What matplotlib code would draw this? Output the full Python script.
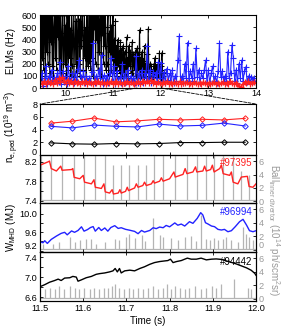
import numpy as np
import matplotlib
matplotlib.use("Agg")
import matplotlib.pyplot as plt
from matplotlib.patches import ConnectionPatch

plt.rcParams['font.family'] = ['Liberation Sans', 'DejaVu Sans']
plt.rcParams['font.size'] = 7
plt.rcParams['mathtext.fontset'] = 'custom'
plt.rcParams['mathtext.rm'] = 'Liberation Sans'
plt.rcParams['mathtext.it'] = 'Liberation Sans:italic'

RED = '#ff2222'
BLUE = '#2222ff'
GRAY = '#b4b4b4'
GRAYTXT = '#9a9a9a'
TS = 6.6

# ---------------- ELM frequency (top panel) ----------------
elm_black = [620, 80, 620, 250, 620, 150, 450, 620, 100, 620, 300, 620, 200, 550, 620, 120,
             620, 380, 620, 180, 620, 90, 500, 620, 250, 620, 150, 620, 420, 620, 200, 620,
             150, 620, 80, 450, 620, 120, 380, 620, 200, 520, 100, 620, 300, 150, 620, 250,
             480, 100, 620, 180, 400, 620, 90, 350, 620, 200, 550,
             120, 450, 620, 200, 550, 100, 620, 350, 480, 620, 150, 400, 620, 250, 500, 100,
             620, 300, 180, 620, 220,
             620, 150, 620, 250, 620, 100, 620, 500, 620, 200, 620, 400, 620, 150, 620, 300,
             550, 620, 100, 620, 450, 620, 200, 620, 350, 620, 150,
             200, 500, 620, 100, 450, 300, 600, 150, 520, 250, 620, 120, 400, 200, 550, 150,
             350, 100, 400, 200, 300, 120, 380, 150, 330, 100, 280, 350, 120, 300, 200, 100,
             420, 150, 250, 80, 350, 180, 300, 120, 260, 380, 100, 280, 200, 150,
             300, 100, 250, 330, 80, 280, 150, 480, 120, 250, 100, 300, 150, 220, 90, 350,
             150, 200, 100, 280, 120, 490, 150,
             100, 200, 80, 180, 120, 150, 60, 200, 80, 250, 120, 170, 90, 140, 200, 100,
             290, 120, 180, 80, 290, 150, 100, 120]
elm_black_t = np.linspace(9.47, 12.06, len(elm_black))

elm_blue = [40, 120, 20, 80, 180, 30, 100, 60, 150, 40, 90, 60,
            120, 50, 216, 30, 140, 50, 100, 30, 180, 70, 60, 120,
            40, 120, 60, 160, 230, 90, 50, 140, 40, 100, 60, 80,
            50, 130, 370, 40, 100, 60, 150, 80, 270, 30, 110, 60,
            100, 40, 120, 250, 60, 180, 30, 140, 60, 90, 40, 200,
            40, 120, 50, 150, 30, 100, 60, 80, 40, 260, 40, 120,
            60, 150, 40, 120, 80, 350, 60, 150, 40, 130, 80, 120,
            60, 217, 80, 205, 60, 130, 40, 160, 70, 120, 50, 150,
            40, 100, 60, 230, 430, 60, 100, 40, 200, 80, 375, 60,
            140, 80, 200, 60, 328, 90, 150, 40, 120, 80, 150, 230,
            50, 150, 40, 120, 180, 60, 100, 40, 140, 370, 90, 140,
            60, 100, 50, 300, 80, 120, 355, 250, 60, 150, 40, 200,
            80, 230, 60, 140, 175, 50, 100, 40, 90, 60, 80, 50]
elm_blue_t = np.linspace(9.47, 13.99, len(elm_blue))

elm_red = [45, 30, 55, 35, 60, 40, 50, 30, 65, 45, 80, 50,
           90, 60, 45, 70, 40, 55, 35, 60, 40, 50, 30, 55,
           40, 60, 35, 50, 45, 30, 55, 40, 60, 35, 50, 40,
           30, 50, 40, 55, 35, 45, 60, 35, 50, 30, 45, 40,
           55, 35, 50, 40, 30, 45, 55, 35, 50, 60, 40, 55,
           45, 65, 40, 55, 35, 50, 45, 30, 50, 40, 55, 35,
           45, 30, 50, 40, 35, 55, 30, 45, 40, 50, 35, 45,
           30, 50, 40, 35, 45, 30, 50, 40, 35, 45, 30, 40,
           50, 35, 45, 30, 40, 50, 35, 45, 30, 55, 40, 35,
           45, 30, 15, 10, 35, 50, 40, 55, 35, 45, 50, 40]
elm_red_t = np.linspace(9.47, 13.99, len(elm_red))

# ---------------- pedestal density ----------------
ne_t = [11.525, 11.575, 11.625, 11.675, 11.725, 11.775, 11.825, 11.875, 11.925, 11.975]
ne_red = [5.0, 5.3, 5.8, 5.2, 5.35, 5.6, 5.5, 5.6, 5.5, 5.75]
ne_blue = [4.5, 4.25, 4.7, 4.5, 4.4, 4.85, 4.55, 4.65, 5.0, 4.55]
ne_black = [1.9, 1.75, 1.7, 1.8, 1.75, 1.8, 1.95, 1.95, 2.0, 2.0]

# ---------------- W_MHD #97395 ----------------
w1_t = [11.500, 11.519, 11.522, 11.526, 11.538, 11.548, 11.551, 11.573, 11.576, 11.579,
        11.592, 11.600, 11.603, 11.619, 11.625, 11.628, 11.642, 11.648, 11.651, 11.661,
        11.667, 11.670, 11.681, 11.685, 11.688, 11.698, 11.702, 11.705, 11.719, 11.723,
        11.727, 11.738, 11.742, 11.746, 11.758, 11.762, 11.765, 11.777, 11.781, 11.785,
        11.800, 11.810, 11.813, 11.831, 11.836, 11.840, 11.854, 11.860, 11.863, 11.877,
        11.881, 11.885, 11.895, 11.899, 11.903, 11.916, 11.920, 11.924, 11.939, 11.943,
        11.947, 11.958, 11.966, 11.980, 11.984, 11.993, 12.000]
w1_v = [8.13, 8.20, 8.215, 8.06, 8.01, 8.11, 8.025, 8.04, 8.06, 7.88,
        7.85, 7.92, 7.78, 7.745, 7.83, 7.675, 7.65, 7.745, 7.58, 7.555,
        7.625, 7.535, 7.555, 7.625, 7.555, 7.59, 7.675, 7.605, 7.66, 7.745,
        7.675, 7.71, 7.78, 7.71, 7.745, 7.81, 7.76, 7.80, 7.87, 7.80,
        7.85, 7.99, 7.885, 7.94, 8.06, 7.955, 7.99, 8.095, 7.99, 8.01,
        8.11, 8.01, 8.04, 8.13, 7.99, 8.06, 8.13, 7.955, 7.92, 7.99,
        7.78, 7.745, 7.885, 7.90, 7.69, 7.675, 7.745]
b1_t = [11.5015, 11.526, 11.551, 11.579, 11.603, 11.628, 11.651, 11.670, 11.688, 11.705,
        11.727, 11.746, 11.765, 11.785, 11.813, 11.840, 11.863, 11.885, 11.903, 11.924,
        11.947, 11.966, 11.984]
b1_h = [7.5, 7.5, 7.5, 7.5, 7.5, 7.5, 7.5, 5.5, 5.5, 5.5,
        5.5, 5.5, 7.5, 7.5, 7.5, 7.5, 7.5, 7.5, 7.5, 7.5,
        7.5, 4.6, 3.9]

# ---------------- W_MHD #96994 ----------------
w2_t = [11.500, 11.507, 11.511, 11.517, 11.526, 11.538, 11.549, 11.557, 11.563, 11.573,
        11.580, 11.588, 11.596, 11.602, 11.610, 11.617, 11.623, 11.628, 11.636, 11.642,
        11.650, 11.657, 11.664, 11.673, 11.681, 11.688, 11.698, 11.708, 11.719, 11.727,
        11.735, 11.742, 11.754, 11.762, 11.769, 11.777, 11.785, 11.792, 11.800, 11.812,
        11.819, 11.827, 11.835, 11.846, 11.854, 11.864, 11.872, 11.877, 11.883, 11.889,
        11.897, 11.904, 11.912, 11.920, 11.927, 11.935, 11.943, 11.952, 11.962, 11.970,
        11.978, 11.985, 11.993, 12.000]
w2_v = [9.394, 9.372, 9.416, 9.358, 9.445, 9.518, 9.577, 9.600, 9.545, 9.630,
        9.600, 9.640, 9.720, 9.625, 9.660, 9.705, 9.725, 9.625, 9.705, 9.640,
        9.695, 9.625, 9.705, 9.745, 9.685, 9.700, 9.665, 9.645, 9.620, 9.570,
        9.640, 9.605, 9.640, 9.700, 9.680, 9.715, 9.700, 9.750, 9.720, 9.805,
        9.755, 9.780, 9.737, 9.832, 9.796, 9.905, 10.029, 9.978, 9.810, 9.781,
        9.737, 9.723, 9.664, 9.650, 9.664, 9.613, 9.635, 9.723, 9.832, 9.883,
        9.759, 9.635, 9.613, 9.635]
b2_t = [11.507, 11.530, 11.543, 11.569, 11.580, 11.592, 11.607, 11.619, 11.630, 11.650,
        11.673, 11.684, 11.700, 11.705, 11.719, 11.735, 11.742, 11.762, 11.777, 11.785,
        11.804, 11.819, 11.835, 11.850, 11.862, 11.873, 11.885, 11.893, 11.903, 11.912,
        11.924, 11.931, 11.943, 11.958, 11.970, 11.978, 11.983, 11.993]
b2_h = [0.94, 0.94, 1.18, 1.93, 1.18, 1.43, 1.6, 1.69, 0.94, 1.2,
        1.55, 1.43, 1.93, 2.43, 1.8, 2.18, 1.3, 4.67, 2.18, 1.93,
        1.8, 1.43, 1.93, 2.0, 1.3, 5.16, 1.69, 1.43, 1.8, 1.43,
        1.69, 1.93, 1.43, 1.18, 3.42, 2.43, 1.93, 1.43]

# ---------------- W_MHD #94442 ----------------
w3_t = [11.500, 11.511, 11.522, 11.534, 11.542, 11.549, 11.557, 11.569, 11.576, 11.584,
        11.588, 11.596, 11.607, 11.619, 11.630, 11.638, 11.650, 11.661, 11.669, 11.674,
        11.679, 11.684, 11.688, 11.696, 11.708, 11.719, 11.731, 11.742, 11.754, 11.765,
        11.777, 11.789, 11.796, 11.802, 11.808, 11.816, 11.827, 11.835, 11.841, 11.850,
        11.862, 11.873, 11.885, 11.897, 11.908, 11.920, 11.931, 11.943, 11.954, 11.966,
        11.978, 11.989, 11.997, 12.000]
w3_v = [6.809, 6.850, 6.899, 6.934, 6.962, 6.934, 6.983, 6.990, 7.017, 7.003,
        6.920, 6.948, 6.990, 7.017, 7.059, 7.073, 7.087, 7.108, 7.129, 7.177,
        7.108, 7.177, 7.087, 7.129, 7.143, 7.129, 7.177, 7.212, 7.261, 7.296,
        7.317, 7.330, 7.337, 7.365, 7.296, 7.317, 7.337, 7.365, 7.386, 7.365,
        7.365, 7.386, 7.351, 7.365, 7.370, 7.360, 7.330, 7.300, 7.270, 7.230,
        7.190, 7.140, 7.080, 7.040]
b3_t = [11.512, 11.522, 11.534, 11.543, 11.555, 11.569, 11.582, 11.590, 11.603, 11.615,
        11.625, 11.636, 11.647, 11.657, 11.667, 11.674, 11.684, 11.694, 11.705, 11.715,
        11.727, 11.738, 11.750, 11.762, 11.773, 11.785, 11.795, 11.804, 11.813, 11.823,
        11.835, 11.846, 11.858, 11.872, 11.885, 11.897, 11.908, 11.918, 11.949, 11.981,
        11.989]
b3_h = [1.42, 1.68, 1.42, 1.93, 1.42, 1.93, 1.68, 1.42, 1.68, 1.42,
        1.68, 1.42, 1.68, 1.68, 1.93, 2.18, 1.68, 1.42, 1.68, 1.42,
        1.68, 1.42, 1.68, 1.93, 1.42, 1.68, 2.18, 1.42, 1.93, 1.68,
        1.42, 1.68, 1.93, 1.42, 1.68, 1.93, 1.68, 2.18, 2.95, 1.68,
        1.42]

# ---------------- figure ----------------
W, H = 283, 329
fig = plt.figure(figsize=(W / 100, H / 100), dpi=100)

def rect(l, t, r, b):
    return [l / W, 1 - b / H, (r - l) / W, (b - t) / H]

ax1 = fig.add_axes(rect(40, 14.7, 256, 88))
ax2 = fig.add_axes(rect(40, 104, 256, 155))
ax3 = fig.add_axes(rect(40, 155, 256, 203))
ax4 = fig.add_axes(rect(40, 203, 256, 252))
ax5 = fig.add_axes(rect(40, 252, 256, 301))

def style(ax):
    ax.tick_params(direction='in', length=2.5, width=0.6, labelsize=TS, pad=2)
    for s in ax.spines.values():
        s.set_linewidth(0.8)

# top panel
ax1.plot(elm_black_t, elm_black, color='black', lw=0.8, marker='+', ms=4.5, mew=0.8)
ax1.plot(elm_blue_t, elm_blue, color=BLUE, lw=0.8, marker='+', ms=4.5, mew=0.8)
ax1.plot(elm_red_t, elm_red, color=RED, lw=1.1, marker='+', ms=4, mew=0.9)
ax1.set_xlim(9.46, 14.0)
ax1.set_ylim(0, 605)
ax1.set_xticks([10, 11, 12, 13, 14])
ax1.set_yticks([0, 100, 200, 300, 400, 500, 600])
style(ax1)
ax1.tick_params(top=True, right=True)
ax1.tick_params(axis='x', pad=1)
fig.text(11 / W, 1 - 51 / H, 'ELMs (Hz)', rotation=90, ha='center', va='center', fontsize=7)

# density panel
for vals, col in [(ne_red, RED), (ne_blue, BLUE), (ne_black, 'black')]:
    ax2.plot(ne_t, vals, color=col, lw=0.8, marker='D', ms=2.8, mfc='none', mew=0.7)
ax2.set_xlim(11.5, 12.0)
ax2.set_ylim(0, 8)
ax2.set_yticks([0, 2, 4, 6, 8])
ax2.set_xticks([11.5, 11.6, 11.7, 11.8, 11.9, 12.0])
style(ax2)
ax2.tick_params(top=True, right=True, labelbottom=False)
fig.text(12 / W, 1 - 127 / H, r'n$_{\rm e,ped}$ (10$^{19}$ m$^{-3}$)', rotation=90,
         ha='center', va='center', fontsize=7)
for lab in ax2.get_yticklabels():
    if lab.get_text() == '0':
        lab.set_va('baseline')

# W_MHD panels
panels = [
    (ax3, w1_t, w1_v, RED, b1_t, b1_h, (7.35, 8.34), [7.4, 7.6, 7.8, 8.0, 8.2], ['7.4', '', '7.8', '', '8.2'], '#97395', 0.84),
    (ax4, w2_t, w2_v, BLUE, b2_t, b2_h, (9.17, 10.24), [9.2, 9.4, 9.6, 9.8, 10.0], ['9.2', '', '9.6', '', '10.0'], '#96994', 0.82),
    (ax5, w3_t, w3_v, 'black', b3_t, b3_h, (6.52, 7.51), [6.6, 6.8, 7.0, 7.2, 7.4], ['6.6', '', '7.0', '', '7.4'], '#94442', 0.80),
]
for ax, t, v, col, bt, bh, ylim, yt, ytl, label, ly in panels:
    tw = ax.twinx()
    tw.vlines(bt, 0.1, bh, color=GRAY, lw=0.9)
    tw.axhline(0.1, color=GRAY, lw=0.9)
    tw.set_ylim(-0.3, 6.95)
    tw.set_yticks([0, 2, 4, 6])
    tw.tick_params(direction='in', length=2.5, width=0.6, labelsize=TS, pad=2,
                   labelcolor=GRAYTXT, color='black')
    ax.set_zorder(tw.get_zorder() + 1)
    ax.patch.set_visible(False)
    ax.plot(t, v, color=col, lw=1.0)
    ax.set_xlim(11.5, 12.0)
    ax.set_ylim(*ylim)
    ax.set_yticks(yt)
    ax.set_yticklabels(ytl)
    ax.set_xticks([11.5, 11.6, 11.7, 11.8, 11.9, 12.0])
    style(ax)
    ax.tick_params(top=True)
    ax.text(0.985, ly, label, transform=ax.transAxes, ha='right', va='center',
            color=col, fontsize=7)
    for s in tw.spines.values():
        s.set_linewidth(0.8)
    if ax is ax4:
        tw.get_yticklabels()[0].set_va('bottom')
        ax.get_yticklabels()[0].set_va('bottom')

ax3.tick_params(labelbottom=False)
ax4.tick_params(labelbottom=False)
ax5.set_xticklabels(['11.5', '11.6', '11.7', '11.8', '11.9', '12.0'])
ax5.set_xlabel('Time (s)', fontsize=7, labelpad=2)

fig.text(11 / W, 1 - 228 / H, r'W$_{\rm MHD}$ (MJ)', rotation=90, ha='center', va='center', fontsize=7)
fig.text(274 / W, 1 - 230 / H, r'Ball$_{\rm inner\ divertor}$ (10$^{14}$ ph/scm$^2$sr)',
         rotation=270, ha='center', va='center', fontsize=7, color=GRAYTXT)

# dashed zoom connectors
for xa, xb in [(11.5, 0), (12.0, 1)]:
    con = ConnectionPatch(xyA=(xa, 0), coordsA=ax1.transData,
                          xyB=(xb, 1), coordsB=ax2.transAxes,
                          linestyle='--', color='black', lw=0.6)
    fig.add_artist(con)

fig.savefig('out.png', dpi=100)
